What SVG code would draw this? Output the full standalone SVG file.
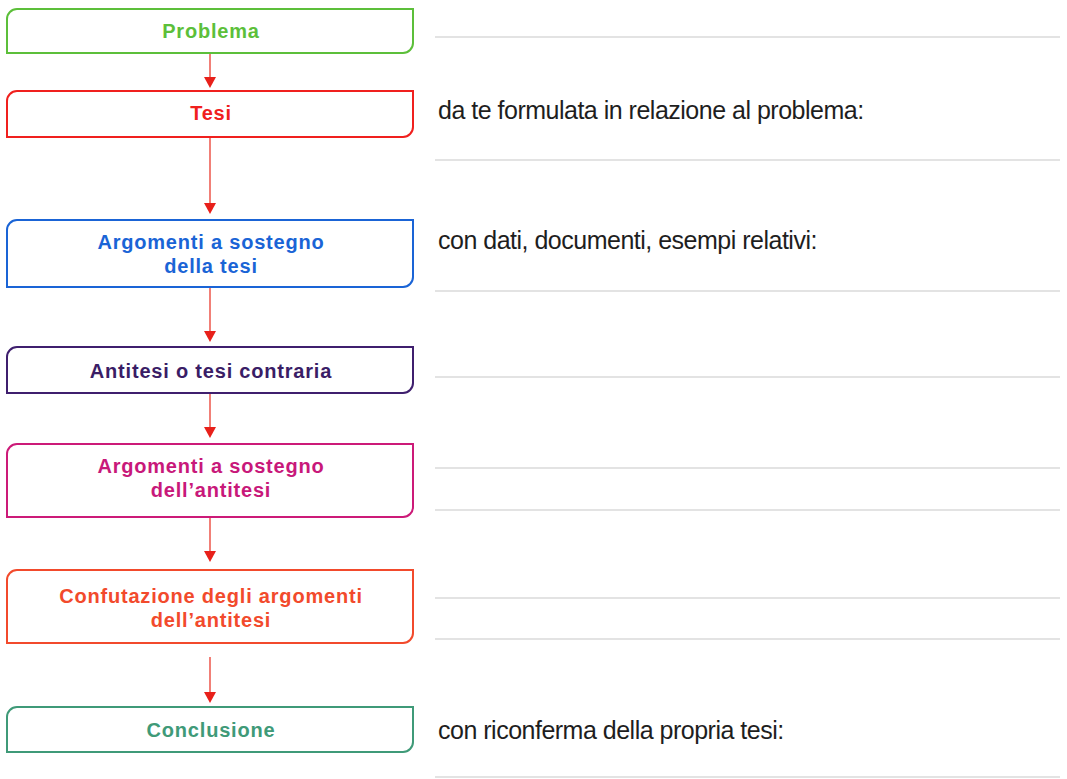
<svg xmlns="http://www.w3.org/2000/svg" width="1067" height="779" viewBox="0 0 1067 779">
<style>
.box{fill:#fff;stroke-width:2}
.bt{font-family:"Liberation Sans",Arial,sans-serif;font-weight:bold;font-size:20px;letter-spacing:0.8px;text-anchor:middle}
.rt{font-family:"Liberation Sans",Arial,sans-serif;font-size:25px;letter-spacing:-0.5px;fill:#1e1e1e}
.wl{stroke:#c8c8c8;stroke-width:1.1;fill:none}
.ar{stroke:#ea3b2e;stroke-width:1.3;fill:none}
.ah{fill:#e8201a}
</style>
<rect width="1067" height="779" fill="#fff"/>
<g id="writing-lines">
<line class="wl" x1="435" y1="37" x2="1060" y2="37"/>
<line class="wl" x1="435" y1="160" x2="1060" y2="160"/>
<line class="wl" x1="435" y1="291" x2="1060" y2="291"/>
<line class="wl" x1="435" y1="377" x2="1060" y2="377"/>
<line class="wl" x1="435" y1="468" x2="1060" y2="468"/>
<line class="wl" x1="435" y1="510" x2="1060" y2="510"/>
<line class="wl" x1="435" y1="598" x2="1060" y2="598"/>
<line class="wl" x1="435" y1="639" x2="1060" y2="639"/>
<line class="wl" x1="435" y1="777" x2="1060" y2="777"/>
</g>
<g id="connectors">
<path class="ar" d="M210,53 V77"/><path class="ah" d="M204,77 H216 L210,88 Z"/>
<path class="ar" d="M210,137 V203"/><path class="ah" d="M204,203 H216 L210,214 Z"/>
<path class="ar" d="M210,287 V331"/><path class="ah" d="M204,331 H216 L210,342 Z"/>
<path class="ar" d="M210,393 V427"/><path class="ah" d="M204,427 H216 L210,438 Z"/>
<path class="ar" d="M210,517 V551"/><path class="ah" d="M204,551 H216 L210,562 Z"/>
<path class="ar" d="M210,657 V692"/><path class="ah" d="M204,692 H216 L210,703 Z"/>
</g>
<g id="problema">
<path class="box" stroke="#5cbf3a" d="M7,19 A10,10 0 0 1 17,9 H413 V43 A10,10 0 0 1 403,53 H7 Z"/>
<text class="bt" x="211" y="38" fill="#5cbf3a">Problema</text>
</g>
<g id="tesi">
<path class="box" stroke="#f0201e" d="M7,101 A10,10 0 0 1 17,91 H413 V127 A10,10 0 0 1 403,137 H7 Z"/>
<text class="bt" x="211" y="120" fill="#f0201e">Tesi</text>
</g>
<g id="argomenti-tesi">
<path class="box" stroke="#1a64d6" d="M7,230 A10,10 0 0 1 17,220 H413 V277 A10,10 0 0 1 403,287 H7 Z"/>
<text class="bt" x="211" y="249" fill="#1a64d6">Argomenti a sostegno</text>
<text class="bt" x="211" y="273" fill="#1a64d6">della tesi</text>
</g>
<g id="antitesi">
<path class="box" stroke="#3f1f6e" d="M7,357 A10,10 0 0 1 17,347 H413 V383 A10,10 0 0 1 403,393 H7 Z"/>
<text class="bt" x="211" y="378" fill="#3a1d66">Antitesi o tesi contraria</text>
</g>
<g id="argomenti-antitesi">
<path class="box" stroke="#cc1a78" d="M7,454 A10,10 0 0 1 17,444 H413 V507 A10,10 0 0 1 403,517 H7 Z"/>
<text class="bt" x="211" y="473" fill="#c8187a">Argomenti a sostegno</text>
<text class="bt" x="211" y="497" fill="#c8187a">dell’antitesi</text>
</g>
<g id="confutazione">
<path class="box" stroke="#f24a2c" d="M7,580 A10,10 0 0 1 17,570 H413 V633 A10,10 0 0 1 403,643 H7 Z"/>
<text class="bt" x="211" y="603" fill="#f24a2c">Confutazione degli argomenti</text>
<text class="bt" x="211" y="627" fill="#f24a2c">dell’antitesi</text>
</g>
<g id="conclusione">
<path class="box" stroke="#3f9a78" d="M7,717 A10,10 0 0 1 17,707 H413 V742 A10,10 0 0 1 403,752 H7 Z"/>
<text class="bt" x="211" y="737" fill="#3f9a78">Conclusione</text>
</g>
<g id="right-texts">
<text class="rt" x="438" y="119">da te formulata in relazione al problema:</text>
<text class="rt" x="438" y="249">con dati, documenti, esempi relativi:</text>
<text class="rt" x="438" y="739">con riconferma della propria tesi:</text>
</g>
</svg>
